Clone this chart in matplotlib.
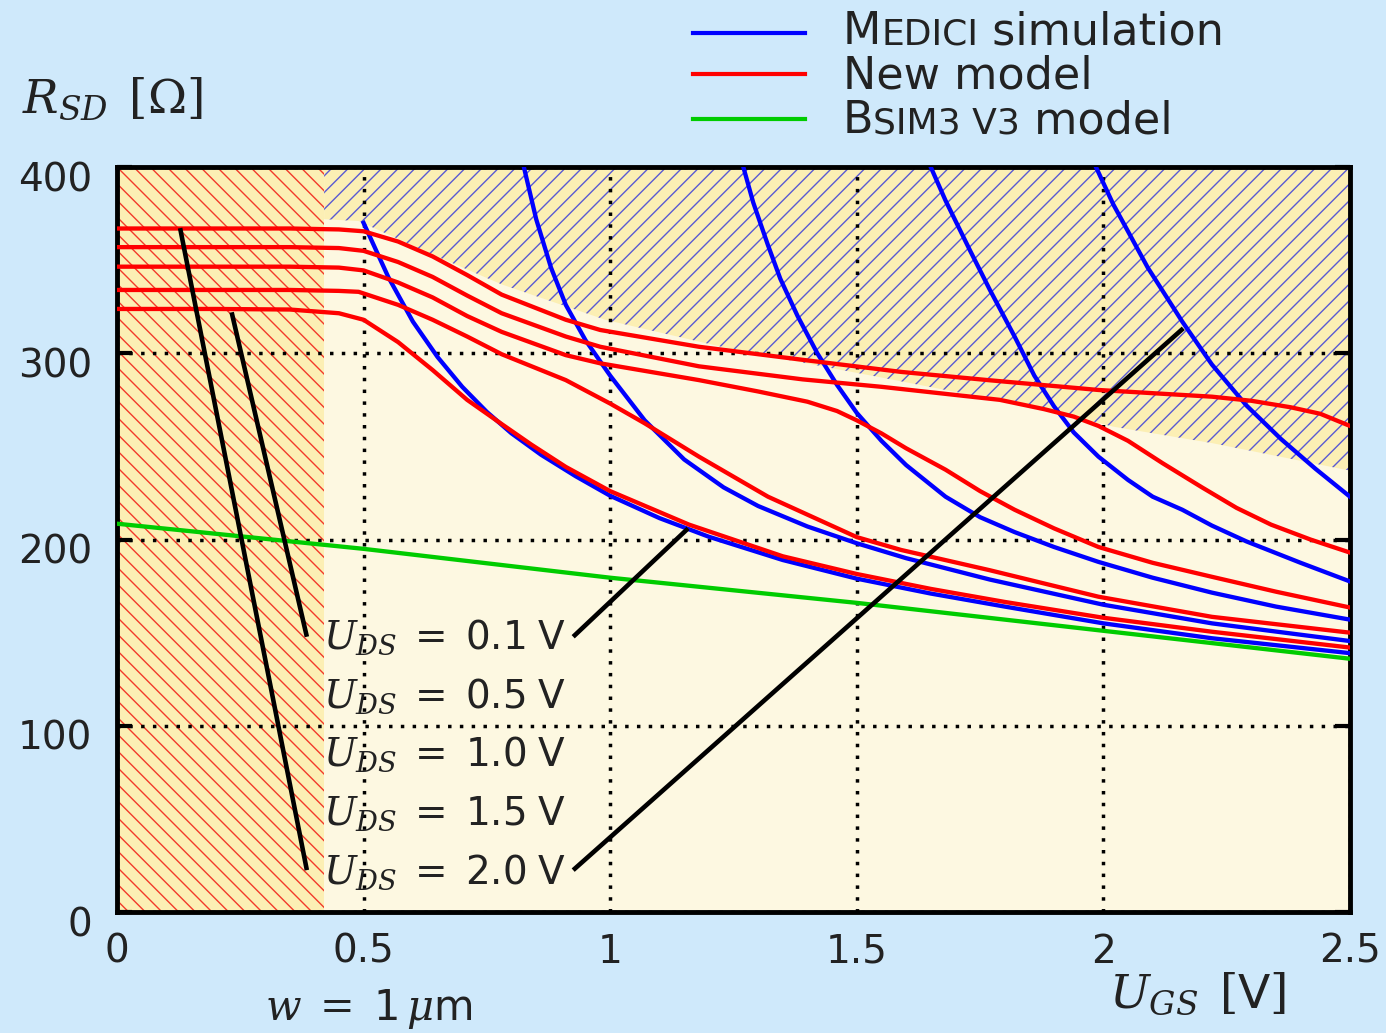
import matplotlib
matplotlib.use("Agg")
import matplotlib.pyplot as plt
from matplotlib.lines import Line2D
from matplotlib.transforms import ScaledTranslation

# --- data ---
x_red_20 = [0, 0.2, 0.35, 0.45, 0.5, 0.57, 0.64, 0.71, 0.78, 0.91, 0.98, 1.18, 1.39, 1.59, 1.77, 1.99, 2.22, 2.3, 2.38, 2.44, 2.5]
y_red_20 = [367, 367, 367, 366.5, 365.5, 360, 352, 342, 331.5, 318, 312.5, 303.5, 296.5, 290, 285.5, 280.3, 276.7, 274.5, 271, 267.5, 261]
x_red_15 = [0, 0.2, 0.35, 0.45, 0.5, 0.57, 0.64, 0.71, 0.78, 0.91, 0.98, 1.18, 1.39, 1.55, 1.79, 1.88, 1.94, 1.99, 2.05, 2.12, 2.2, 2.27, 2.34, 2.42, 2.5]
y_red_15 = [357, 357, 357, 356.5, 355, 349, 341, 331, 321.5, 309, 303.5, 293, 286, 282, 275, 270, 266, 261, 253, 241, 228, 217, 208, 200, 193]
x_red_10 = [0, 0.2, 0.35, 0.45, 0.5, 0.57, 0.64, 0.71, 0.78, 0.91, 0.98, 1.18, 1.3, 1.4, 1.46, 1.5, 1.55, 1.6, 1.68, 1.75, 1.82, 1.9, 1.99, 2.1, 2.22, 2.35, 2.5]
y_red_10 = [346.5, 346.5, 346.5, 346, 344.5, 338, 330, 320, 311.5, 299, 294.6, 285.6, 279.5, 274, 269, 264, 257, 249, 237.5, 226, 216, 206, 196, 187.5, 180, 172, 163.5]
x_red_05 = [0, 0.2, 0.35, 0.45, 0.49, 0.57, 0.64, 0.71, 0.78, 0.91, 1.0, 1.07, 1.18, 1.32, 1.5, 1.59, 1.77, 1.99, 2.22, 2.5]
y_red_05 = [334, 334, 334, 333.5, 333, 326, 318, 309, 299.5, 285.6, 273, 262.4, 244.5, 223, 201.3, 194.4, 183.5, 169.3, 158.5, 150]
x_red_01 = [0, 0.2, 0.35, 0.45, 0.5, 0.57, 0.64, 0.71, 0.78, 0.84, 0.91, 1.0, 1.16, 1.35, 1.5, 1.65, 1.8, 2.0, 2.22, 2.5]
y_red_01 = [323.8, 323.8, 323.5, 321.5, 318, 306, 291, 275, 262, 251, 239, 226, 208, 191, 181.5, 173.5, 166.5, 158, 150.5, 142]

x_blue_01 = [0.5, 0.55, 0.6, 0.65, 0.7, 0.75, 0.8, 0.86, 0.93, 1.0, 1.1, 1.2, 1.35, 1.5, 1.65, 1.8, 2.0, 2.22, 2.5]
y_blue_01 = [370, 341, 317, 298, 282, 268.5, 257, 245.5, 234, 223.5, 211.5, 201.5, 189, 179, 171, 164, 155, 147, 139]
x_blue_05 = [0.825, 0.85, 0.88, 0.91, 0.95, 1.0, 1.07, 1.15, 1.23, 1.3, 1.4, 1.5, 1.6, 1.77, 2.0, 2.22, 2.5]
y_blue_05 = [400, 372, 346, 326, 307, 288, 264, 243, 228, 218, 207, 198, 190, 178.5, 165, 155, 145.5]
x_blue_10 = [1.27, 1.29, 1.32, 1.345, 1.38, 1.42, 1.46, 1.5, 1.55, 1.6, 1.68, 1.75, 1.82, 1.9, 1.99, 2.1, 2.22, 2.35, 2.5]
y_blue_10 = [400, 381, 358, 340, 320, 300, 283, 268, 253, 240, 223, 212, 204, 196, 188, 179.5, 171.5, 164, 157]
x_blue_15 = [1.65, 1.68, 1.73, 1.77, 1.82, 1.86, 1.9, 1.94, 1.99, 2.05, 2.1, 2.16, 2.22, 2.29, 2.4, 2.5]
y_blue_15 = [400, 382, 355, 334, 309, 288, 271.5, 257.5, 244.5, 232, 223, 216, 207.5, 199, 187.5, 177.5]
x_blue_20 = [1.985, 2.02, 2.09, 2.16, 2.22, 2.29, 2.36, 2.43, 2.5]
y_blue_20 = [400, 380, 346, 317, 294, 272, 254, 238, 223]

x_bsim = [0, 0.5, 1.0, 1.5, 2.0, 2.5]
y_bsim = [208.5, 195, 179.5, 166, 151, 136]

# hatched regions
w_limit = 0.42
x_hatch = [0.42, 0.49, 0.64, 0.78, 0.99, 1.25, 1.55, 1.89, 2.02, 2.22, 2.5]
y_hatch = [372, 371, 353, 337, 318, 302, 287, 269.5, 260.6, 251.8, 237]

uds_labels = ["0.1", "0.5", "1.0", "1.5", "2.0"]
uds_label_y = [141.2, 109.8, 78.3, 46.9, 15.3]

# leader lines (from label to curve)
leaders = [
    ([0.385, 0.128], [22.5, 367.2]),
    ([0.385, 0.2325], [147.8, 322]),
    ([0.925, 1.158], [147.8, 206]),
    ([0.925, 2.162], [22.5, 313.4]),
]

plt.rcParams['font.family'] = ['DejaVu Sans']
plt.rcParams['mathtext.fontset'] = 'custom'
plt.rcParams['mathtext.it'] = 'DejaVu Serif:italic'
plt.rcParams['mathtext.rm'] = 'DejaVu Serif'
plt.rcParams['mathtext.sf'] = 'DejaVu Sans'
plt.rcParams['hatch.linewidth'] = 1.0

fig = plt.figure(figsize=(13.86, 10.33), dpi=100)
fig.patch.set_facecolor('#cfe9fb')
ax = fig.add_axes([0.0844, 0.1171, 0.8896, 0.7212])
ax.set_facecolor('#fdf8e1')

# hatched areas
ax.fill_between([0, w_limit], 0, 400, facecolor='#fcefb4', edgecolor='#f23a2a',
                hatch='\\\\', linewidth=0, zorder=1)
ax.fill_between(x_hatch, y_hatch, 400, facecolor='#fcefb4', edgecolor='#5a5ad2',
                hatch='//', linewidth=0, zorder=1)

lw = 3.1
for xs, ys in [(x_blue_01, y_blue_01), (x_blue_05, y_blue_05), (x_blue_10, y_blue_10),
               (x_blue_15, y_blue_15), (x_blue_20, y_blue_20)]:
    ax.plot(xs, ys, color='#0000ff', lw=lw, zorder=3, solid_joinstyle='round')
for xs, ys in [(x_red_01, y_red_01), (x_red_05, y_red_05), (x_red_10, y_red_10),
               (x_red_15, y_red_15), (x_red_20, y_red_20)]:
    ax.plot(xs, ys, color='#ff0000', lw=lw, zorder=3, solid_joinstyle='round')
ax.plot(x_bsim, y_bsim, color='#00cc00', lw=lw, zorder=3)

for xs, ys in leaders:
    ax.plot(xs, ys, color='black', lw=3.3, zorder=4, solid_capstyle='butt')

for val, yl in zip(uds_labels, uds_label_y):
    ax.text(0.418, yl, r"$U_{DS}\;=\;\mathsf{" + val + r"}\;\mathsf{V}$", fontsize=28,
            va='baseline', ha='left', color='#222222', zorder=5)

ax.set_xlim(0, 2.5)
ax.set_ylim(0, 400)
ax.set_xticks([0, 0.5, 1, 1.5, 2, 2.5])
ax.set_xticklabels(['0', '0.5', '1', '1.5', '2', '2.5'])
ax.set_yticks([0, 100, 200, 300, 400])
ax.tick_params(axis='x', length=0, pad=15, labelsize=28, labelcolor='#222222')
ax.tick_params(axis='y', direction='in', length=11, width=3, left=True, right=True,
               pad=18, labelsize=28, labelcolor='#222222')
for lab in ax.get_yticklabels():
    lab.set_transform(lab.get_transform() + ScaledTranslation(0, -0.09, fig.dpi_scale_trans))
ax.set_axisbelow('line')
ax.grid(True, color='black', linestyle=(0, (1, 2.4)), linewidth=2.5)
for sp in ax.spines.values():
    sp.set_linewidth(3.5)

# axis labels
fig.text(0.016, 0.8906, r"$R_{SD}\;\,[\Omega]$", fontsize=34, va='baseline', ha='left', color='#222222')
fig.text(0.800, 0.0242, r"$U_{GS}\;\,[\mathsf{V}]$", fontsize=34, va='baseline', ha='left', color='#222222')
fig.text(0.191, 0.0126, r"$w\;=\;\mathsf{1}\,\mu\mathsf{m}$", fontsize=30, va='baseline', ha='left', color='#222222')

# legend drawn by hand (small caps)
renderer = fig.canvas.get_renderer()


def put_pieces(x, y, pieces):
    for s, size in pieces:
        t = fig.text(x, y, s, fontsize=size, va='baseline', ha='left', color='#222222')
        bb = t.get_window_extent(renderer=renderer)
        x += bb.width / fig.bbox.width


leg_rows = [
    ('#0000ff', 0.968, 0.9574, [("M", 32), ("EDICI", 26), (" simulation", 32)]),
    ('#ff0000', 0.928, 0.9143, [("New model", 32)]),
    ('#00cc00', 0.885, 0.8712, [("B", 32), ("SIM3 V3", 26), (" model", 32)]),
]
for col, yl, yt, pieces in leg_rows:
    fig.add_artist(Line2D([0.5, 0.581], [yl, yl], color=col, lw=3, transform=fig.transFigure))
    put_pieces(0.608, yt, pieces)

fig.savefig('out.png', dpi=100, facecolor=fig.get_facecolor())
